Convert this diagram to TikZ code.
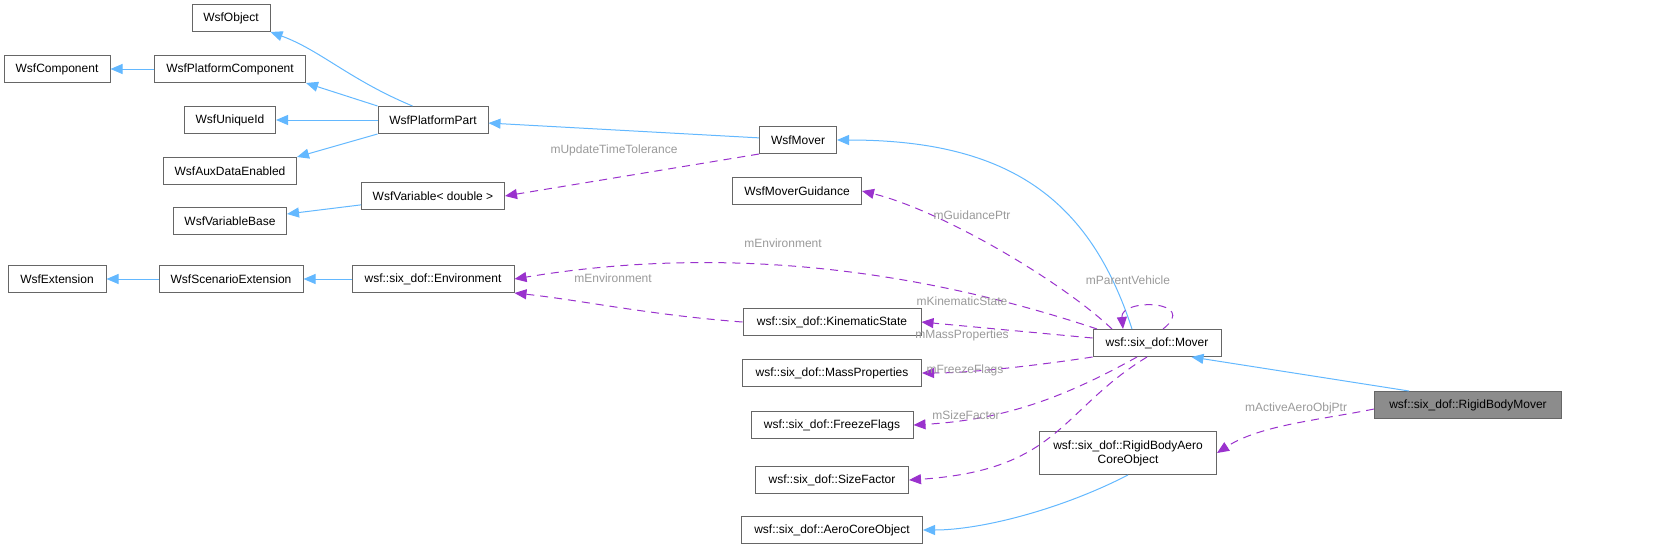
\documentclass[tikz,border=0pt]{standalone}
\usepackage{fontspec}
\setmainfont{Liberation Sans}
\usetikzlibrary{arrows.meta,calc}
\definecolor{inh}{HTML}{63B8FF}
\definecolor{use}{HTML}{9A32CD}
\definecolor{lbl}{HTML}{9A9A9A}
\begin{document}
\begin{tikzpicture}[x=1pt,y=-1pt,
  box/.style={draw=black!60,fill=white,line width=1pt,minimum height=27pt,inner xsep=6pt,font=\fontsize{12}{14}\selectfont,anchor=center},
  inhe/.style={draw=inh,line width=1pt,-{Triangle[length=12pt,width=10pt]}},
  usee/.style={draw=use,line width=1pt,dash pattern=on 8pt off 6pt,-{Triangle[length=12pt,width=10pt]}},
  lab/.style={text=lbl,font=\fontsize{12}{14}\selectfont}]
\useasboundingbox (0,0) rectangle (1653,549);
\node[box,minimum width=78pt] (obj) at (231,18) {WsfObject};
\node[box,minimum width=106pt] (comp) at (57,69) {WsfComponent};
\node[box,minimum width=151pt] (pcomp) at (230,69) {WsfPlatformComponent};
\node[box,minimum width=91pt] (uid) at (230,120) {WsfUniqueId};
\node[box,minimum width=110pt] (ppart) at (433,120) {WsfPlatformPart};
\node[box,minimum width=133pt] (aux) at (230,171) {WsfAuxDataEnabled};
\node[box,minimum width=143pt] (var) at (433,196) {WsfVariable< double >};
\node[box,minimum width=113pt] (varb) at (230,221) {WsfVariableBase};
\node[box,minimum width=98pt] (ext) at (57,279) {WsfExtension};
\node[box,minimum width=144pt] (sext) at (231,279) {WsfScenarioExtension};
\node[box,minimum width=162pt] (env) at (433,279) {wsf::six\_dof::Environment};
\node[box,minimum width=77pt] (mover) at (798,140) {WsfMover};
\node[box,minimum width=129pt] (guid) at (797,191) {WsfMoverGuidance};
\node[box,minimum width=178pt] (kin) at (832,322) {wsf::six\_dof::KinematicState};
\node[box,minimum width=179pt] (mass) at (832,373) {wsf::six\_dof::MassProperties};
\node[box,minimum width=162pt] (frz) at (832,425) {wsf::six\_dof::FreezeFlags};
\node[box,minimum width=153pt] (size) at (832,480) {wsf::six\_dof::SizeFactor};
\node[box,minimum width=181pt] (aero) at (832,530) {wsf::six\_dof::AeroCoreObject};
\node[box,minimum width=128pt] (smover) at (1157,343) {wsf::six\_dof::Mover};
\node[box,minimum width=177pt,minimum height=43pt,align=center] (rbaero) at (1128,453) {wsf::six\_dof::RigidBodyAero\\CoreObject};
\node[box,minimum width=187pt,fill=black!45] (rbm) at (1468,405) {wsf::six\_dof::RigidBodyMover};
% inheritance
\draw[inhe] (pcomp) -- (comp);
\draw[inhe] ($(ppart.north west)+(35,0)$) .. controls (350,80) and (320,50) .. (obj.south east);
\draw[inhe] (ppart.north west) -- (pcomp.south east);
\draw[inhe] (ppart) -- (uid);
\draw[inhe] (ppart.south west) -- (aux.north east);
\draw[inhe] (var) -- (varb);
\draw[inhe] (sext) -- (ext);
\draw[inhe] (env) -- (sext);
\draw[inhe] (mover) -- (ppart);
\draw[inhe] ($(smover.north)+(-25,0)$) .. controls (1090,200) and (1010,140) .. (mover.east);
\draw[inhe] ($(rbm.north west)+(35,0)$) -- ($(smover.south east)+(-30,0)$);
\draw[inhe] (rbaero.south) .. controls (1060,510) and (980,530) .. (aero.east);
% usage
\draw[usee] (mover.south west) -- (var.east);
\draw[usee] ($(smover.north)+(-45,0)$) .. controls (1060,280) and (940,210) .. (guid.east);
\draw[usee] ($(smover.north)+(-60,0)$) .. controls (950,280) and (750,240) .. (env.east);
\draw[usee] (kin.west) .. controls (650,315) and (580,300) .. (env.south east);
\draw[usee] ($(smover.north)+(6,0)$) .. controls (1200,300) and (1120,298) .. ($(smover.north)+(-34,0)$);
\draw[usee] ($(smover.west)+(0,-5)$) -- (kin.east);
\draw[usee] (smover.south west) .. controls (1060,362) and (980,373) .. (mass.east);
\draw[usee] ($(smover.south)+(-20,0)$) .. controls (1060,400) and (1000,420) .. (frz.east);
\draw[usee] ($(smover.south)+(-10,0)$) .. controls (1060,410) and (1060,470) .. (size.east);
\draw[usee] ($(rbm.south west)+(0,-10)$) .. controls (1320,420) and (1260,425) .. (rbaero.east);
% labels
\node[lab] (l1) at (614,150) {mUpdateTimeTolerance};
\node[lab] (l2) at (972,215) {mGuidancePtr};
\node[lab] (l3) at (783,243) {mEnvironment};
\node[lab] (l4) at (613,278) {mEnvironment};
\node[lab] (l5) at (1128,280) {mParentVehicle};
\node[lab] (l6) at (962,301) {mKinematicState};
\node[lab] (l7) at (962,335) {mMassProperties};
\node[lab] (l8) at (965,370) {mFreezeFlags};
\node[lab] (l9) at (966,415) {mSizeFactor};
\node[lab] (l10) at (1296,408) {mActiveAeroObjPtr};
\end{tikzpicture}
\end{document}
